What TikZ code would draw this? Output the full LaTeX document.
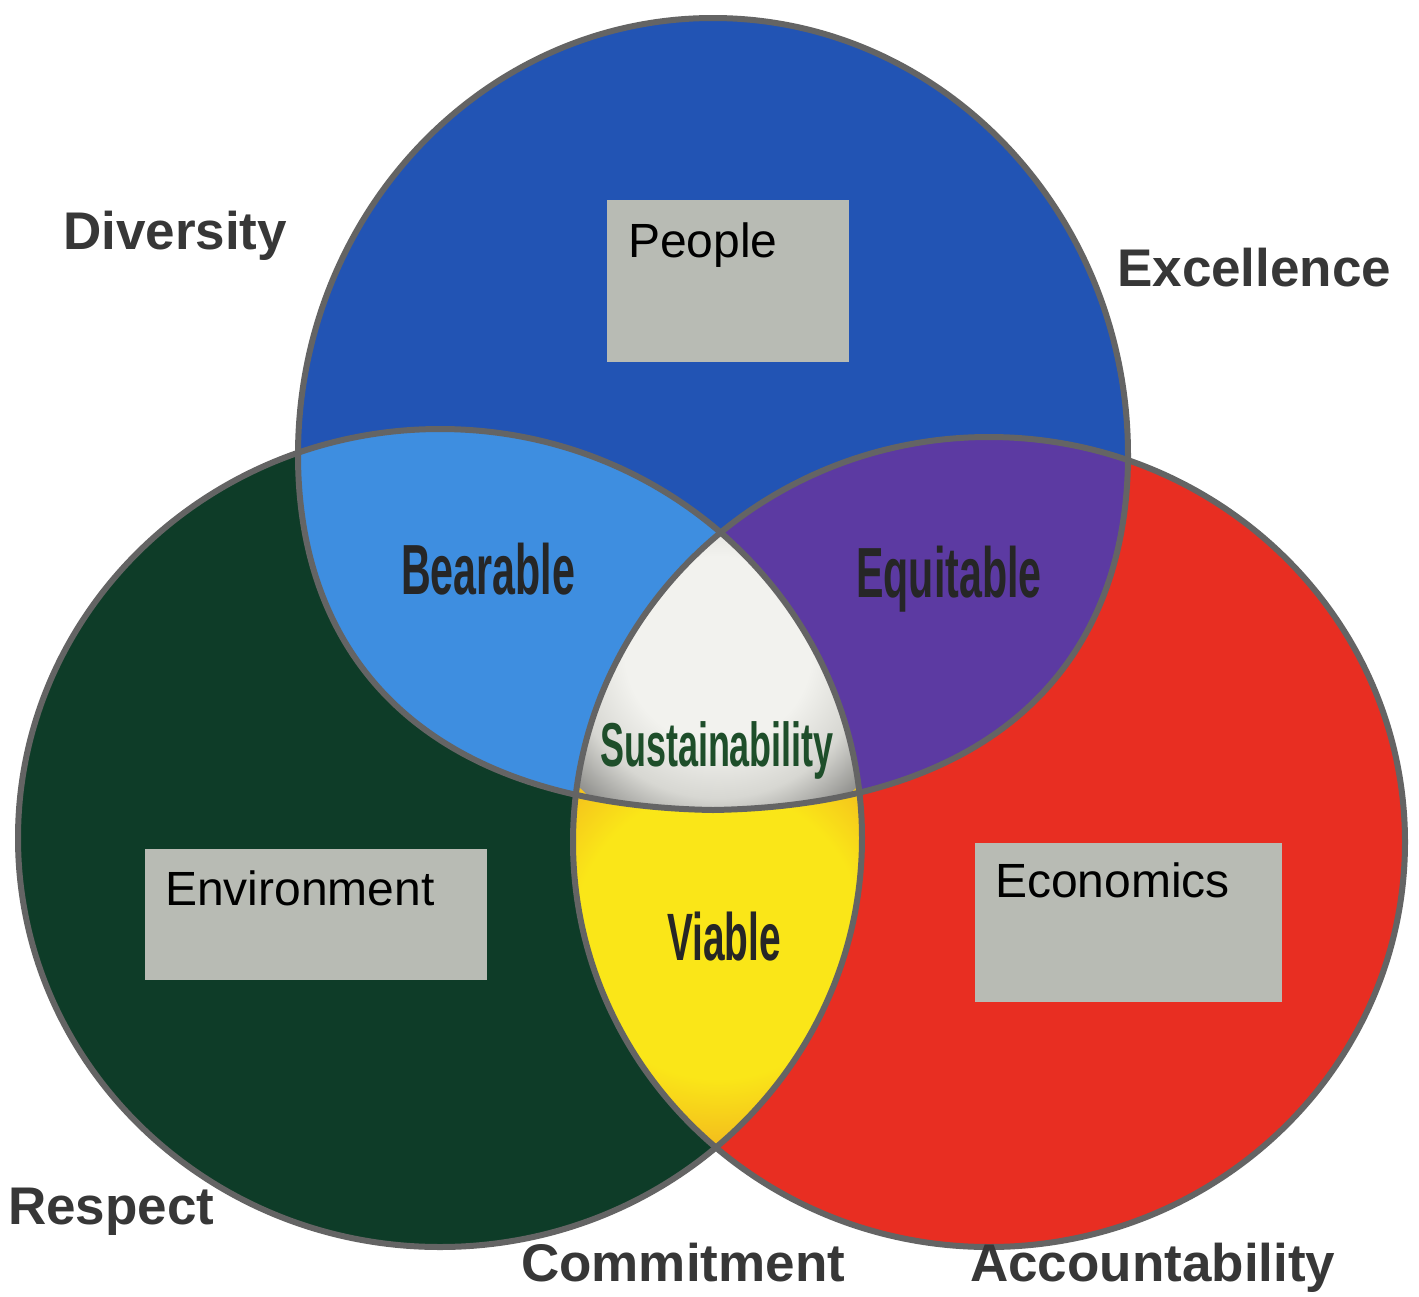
\documentclass[tikz,border=0pt]{standalone}
\usepackage{fontspec}
\setmainfont{Liberation Sans}
\newfontfamily\condfont[FakeStretch=0.58]{Liberation Sans}
\definecolor{bluecol}{RGB}{34,84,180}
\definecolor{lightbluecol}{RGB}{62,142,224}
\definecolor{purplecol}{RGB}{92,58,162}
\definecolor{greencol}{RGB}{14,60,40}
\definecolor{redcol}{RGB}{232,46,34}
\definecolor{yellowcol}{RGB}{250,230,24}
\definecolor{orangeedge}{RGB}{242,180,30}
\definecolor{edgegray}{RGB}{100,100,100}
\definecolor{boxgray}{RGB}{184,187,180}
\definecolor{labelgray}{RGB}{55,55,55}
\definecolor{sustgreen}{RGB}{30,78,42}
\definecolor{whitecore}{RGB}{242,242,238}
\definecolor{whitemid}{RGB}{215,215,210}
\definecolor{whiteedge}{RGB}{145,145,142}
\pgfdeclareradialshading{whiteglow}{\pgfpoint{0bp}{0bp}}{color(0bp)=(whitecore); color(12bp)=(whitecore); color(19bp)=(whitemid); color(25bp)=(whiteedge); color(50bp)=(whiteedge)}
\pgfdeclareradialshading{yellowglow}{\pgfpoint{0bp}{0bp}}{color(0bp)=(yellowcol); color(16bp)=(yellowcol); color(25bp)=(orangeedge); color(50bp)=(orangeedge)}
\begin{document}
\begin{tikzpicture}[x=1pt,y=-1pt,
  greenshape/.style={insert path={(440,838) ellipse [x radius=422pt, y radius=409pt]}},
  redshape/.style={insert path={(989,842) ellipse [x radius=416pt, y radius=405pt]}},
  blueshape/.style={insert path={(298,455) .. controls (298,213.6) and (483.8,18) .. (713,18) .. controls (942.2,18) and (1128,213.6) .. (1128,455) .. controls (1128,650) and (1010,805) .. (713,810) .. controls (416,805) and (298,650) .. (298,455) -- cycle}},
  outline/.style={draw=edgegray, line width=6pt},
  graybox/.style={fill=boxgray, draw=none, inner sep=0pt},
  boxtext/.style={font=\fontsize{48}{56}\selectfont, text=black, inner sep=0pt, anchor=base west},
  outerlabel/.style={font=\fontsize{53}{60}\selectfont\bfseries, text=labelgray, inner sep=0pt, anchor=base west},
  condlabel/.style={inner sep=0pt, anchor=base, text=black!85}
]
\path[fill=white] (0,0) rectangle (1419,1296);
\useasboundingbox (0,0) rectangle (1419,1296);

% base shapes
\fill[greencol, greenshape];
\fill[redcol, redshape];
\fill[bluecol, blueshape];

% pairwise overlaps
\begin{scope}
  \clip[blueshape];
  \fill[lightbluecol, greenshape];
\end{scope}
\begin{scope}
  \clip[blueshape];
  \fill[purplecol, redshape];
\end{scope}
\begin{scope}
  \clip[greenshape];
  \clip[redshape];
  \shade[shading=yellowglow] (718,935) circle (225pt);
\end{scope}
% triple overlap
\begin{scope}
  \clip[blueshape];
  \clip[greenshape];
  \clip[redshape];
  \shade[shading=whiteglow] (718,650) circle (195pt);
\end{scope}

% outlines
\draw[outline, greenshape];
\draw[outline, redshape];
\draw[outline, blueshape];

% gray boxes
\node[graybox, minimum width=242pt, minimum height=162pt] (peoplebox) at (728,281) {};
\node[graybox, minimum width=342pt, minimum height=131pt] (envbox) at (316,914.5) {};
\node[graybox, minimum width=307pt, minimum height=159pt] (econbox) at (1128.5,922.5) {};

\node[boxtext] (people) at (628,257) {People};
\node[boxtext] (environment) at (165,905) {Environment};
\node[boxtext] (economics) at (995,897) {Economics};

% region labels
\node[condlabel, font=\condfont\bfseries\fontsize{71}{80}\selectfont] (bearable) at (488,594) {Bearable};
\node[condlabel, font=\condfont\bfseries\fontsize{71}{80}\selectfont] (equitable) at (949,597) {Equitable};
\node[condlabel, font=\condfont\bfseries\fontsize{62}{70}\selectfont, text=sustgreen] (sustainability) at (717,766) {Sustainability};
\node[condlabel, font=\condfont\bfseries\fontsize{67}{76}\selectfont] (viable) at (724,960) {Viable};

% outer labels
\node[outerlabel] (diversity) at (63,249) {Diversity};
\node[outerlabel] (excellence) at (1117,286) {Excellence};
\node[outerlabel] (respect) at (8,1224) {Respect};
\node[outerlabel] (commitment) at (521,1281) {Commitment};
\node[outerlabel] (accountability) at (970,1281) {Accountability};
\end{tikzpicture}
\end{document}
